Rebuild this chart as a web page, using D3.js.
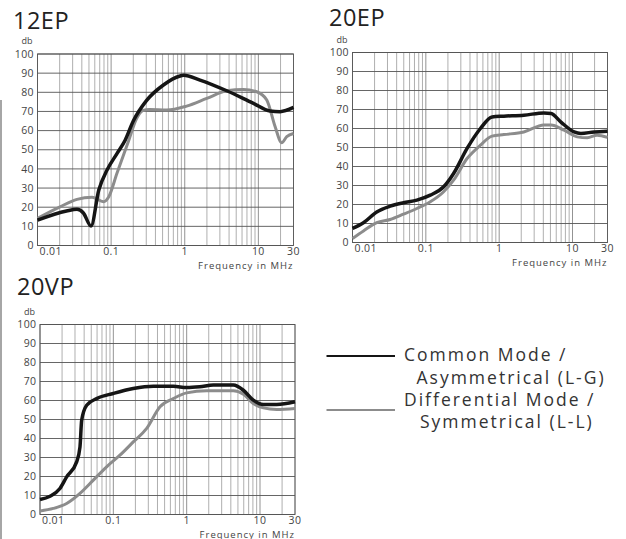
<!DOCTYPE html>
<html>
<head>
<meta charset="utf-8">
<script src="https://cdn.jsdelivr.net/npm/d3@7"></script>
<style>
  body { margin: 0; background: #fff; }
  svg { display: block; font-family: "Open Sans", sans-serif; }
</style>
</head>
<body>
<div id="chart"></div>
<script>
// axis ticks
const xTicks = [0.01, 0.1, 1, 10, 30];
const xTickLabels = ["0.01", "0.1", "1", "10", "30"];
const yTicks = [0, 10, 20, 30, 40, 50, 60, 70, 80, 90, 100];

// [frequency MHz, attenuation dB]
const ep12Common = [[0.01,13.2],[0.0248,18],[0.0344,18.9],[0.042,17],[0.0533,10.2],[0.068,29],[0.088,39.4],
  [0.12,48],[0.155,55],[0.2,65],[0.3,75.5],[0.513,83.8],[0.863,88.5],[0.96,88.9],[1.61,86.4],[3.72,80.8],
  [8.57,74.2],[14.4,70.2],[19.7,69.9],[30,72.1]];
const ep12Diff = [[0.01,14.2],[0.0202,20.2],[0.0344,24.1],[0.055,25.2],[0.079,22.9],[0.093,25.5],
  [0.12,37.7],[0.174,55],[0.22,66],[0.27,70.5],[0.33,71],[0.569,70.7],[1.06,72.8],[1.99,76.8],
  [3.72,80.8],[6.26,81.5],[9.5,80.3],[13,76],[16.9,62],[20.7,53.7],[24.3,56.8],[30,58.5]];

const ep20Common = [[0.01,7.4],[0.0141,10.4],[0.0214,16.1],[0.0326,19.1],[0.0496,20.9],[0.0755,22.3],
  [0.115,24.9],[0.175,29.3],[0.239,36.3],[0.365,49.5],[0.555,60],[0.8,66.1],[1.16,66.5],[2.17,67],
  [4.08,68.2],[5.1,67.9],[6.9,63.5],[10.5,58.2],[13,57.4],[19.7,58.2],[30,58.6]];
const ep20Diff = [[0.01,2.1],[0.0141,6.1],[0.0214,10.4],[0.0326,12.1],[0.0496,14.9],[0.0755,17.9],
  [0.115,21.4],[0.175,26.7],[0.239,32.8],[0.365,44.2],[0.555,51.2],[0.8,56],[1.16,56.8],[2.17,58.2],
  [4.08,61.8],[5.1,61.8],[7.66,59.1],[11.6,55.6],[15.9,55.1],[21.6,56.5],[30,55.3]];

const vp20Common = [[0.01,7.9],[0.0137,9.6],[0.0187,13.7],[0.0231,19.8],[0.0316,27.7],[0.0351,35.6],
  [0.037,49.6],[0.0433,57.5],[0.0593,61],[0.1,63.7],[0.187,66.3],[0.351,67.5],[0.658,67.5],[1.0,66.8],
  [1.51,67.2],[2.31,68.1],[4.33,68.1],[5.93,65.4],[8.1,60.2],[11.1,57.9],[16.9,57.9],[30,59.3]];
const vp20Diff = [[0.01,1.9],[0.0152,3.2],[0.0231,5.8],[0.0351,11.1],[0.0534,18.1],[0.081,25.1],
  [0.123,31.2],[0.187,38.2],[0.285,45.3],[0.433,56.7],[0.658,61],[1.0,64],[1.87,65.1],[4.33,65.1],
  [5.93,63.3],[8.1,58.4],[11.1,56.1],[16.9,55.3],[30,55.8]];

const legendLabels = [["Common Mode /", "Asymmetrical (L-G)"], ["Differential Mode /", "Symmetrical (L-L)"]];

const panels = [
  { title: "12EP", common: ep12Common, diff: ep12Diff, left: 37.5, top: 54, w: 256, h: 191.5, tx: 13, ty: 28.5 },
  { title: "20EP", common: ep20Common, diff: ep20Diff, left: 352.5, top: 52.5, w: 255, h: 190, tx: 329, ty: 25.5 },
  { title: "20VP", common: vp20Common, diff: vp20Diff, left: 40, top: 324.5, w: 255, h: 190, tx: 17, ty: 295 }
];

const W = 626, H = 539;
const svg = d3.select("#chart").append("svg")
  .attr("width", W).attr("height", H);

svg.append("rect").attr("width", W).attr("height", H).attr("fill", "#fff");

// scan edge on the left
svg.append("line")
  .attr("x1", 1).attr("x2", 1).attr("y1", 100).attr("y2", H)
  .attr("stroke", "#888").attr("stroke-width", 1.5);

// vertical grid: 1..9 per decade, up to 30
const gridFreqs = [];
[0.01, 0.1, 1, 10].forEach(d => {
  d3.range(1, 10).forEach(k => { if (k * d <= 30.0001) gridFreqs.push(+(k * d).toPrecision(3)); });
});

function drawPanel(p) {
  const x = d3.scaleLog().domain([0.01, 30]).range([0, p.w]);
  const y = d3.scaleLinear().domain([0, 100]).range([p.h, 0]);

  svg.append("text")
    .attr("x", p.tx).attr("y", p.ty)
    .attr("font-size", 23.5).attr("fill", "#222")
    .attr("letter-spacing", 0.5)
    .text(p.title);

  const g = svg.append("g").attr("transform", `translate(${p.left},${p.top})`);

  g.append("text")
    .attr("x", -16).attr("y", -10)
    .attr("font-size", 9).attr("fill", "#444")
    .text("db");

  g.selectAll(".vgrid").data(gridFreqs).enter().append("line")
    .attr("x1", d => x(d)).attr("x2", d => x(d))
    .attr("y1", 0).attr("y2", p.h)
    .attr("stroke", d => [0.01, 0.1, 1, 10].includes(d) ? "#777" : "#9a9a9a")
    .attr("stroke-width", 0.8);

  g.selectAll(".hgrid").data(yTicks).enter().append("line")
    .attr("x1", 0).attr("x2", p.w)
    .attr("y1", d => y(d)).attr("y2", d => y(d))
    .attr("stroke", "#555").attr("stroke-width", 0.9);

  g.append("rect")
    .attr("width", p.w).attr("height", p.h)
    .attr("fill", "none").attr("stroke", "#555").attr("stroke-width", 0.9);

  g.selectAll(".ylab").data(yTicks).enter().append("text")
    .attr("x", -3.5).attr("y", d => y(d))
    .attr("dy", "0.35em")
    .attr("text-anchor", "end")
    .attr("font-size", 10.5).attr("fill", "#444").attr("letter-spacing", 0.4)
    .text(d => d);

  g.selectAll(".xlab").data(xTicks).enter().append("text")
    .attr("x", (d, i) => i === 0 ? x(d) + 2 : x(d))
    .attr("y", p.h + 9.5)
    .attr("text-anchor", (d, i) => i === 0 ? "start" : "middle")
    .attr("font-size", 10.5).attr("fill", "#444").attr("letter-spacing", 0.4)
    .text((d, i) => xTickLabels[i]);

  g.append("text")
    .attr("x", p.w).attr("y", p.h + 23)
    .attr("text-anchor", "end")
    .attr("font-size", 9.5).attr("fill", "#444")
    .attr("letter-spacing", 1)
    .text("Frequency in MHz");

  const line = d3.line()
    .x(d => x(d[0])).y(d => y(d[1]))
    .curve(d3.curveMonotoneX);

  g.append("path").datum(p.diff)
    .attr("d", line)
    .attr("fill", "none").attr("stroke", "#8c8c8c")
    .attr("stroke-width", 3).attr("stroke-linejoin", "round");

  g.append("path").datum(p.common)
    .attr("d", line)
    .attr("fill", "none").attr("stroke", "#151515")
    .attr("stroke-width", 3.5).attr("stroke-linejoin", "round");
}

panels.forEach(drawPanel);

// legend
const legend = svg.append("g");
const legendRows = [
  { color: "#151515", ly: 356, t1y: 361, t2y: 383.5, t2x: 416.5 },
  { color: "#8c8c8c", ly: 410, t1y: 405.5, t2y: 427.5, t2x: 420 }
];
legendRows.forEach((r, i) => {
  legend.append("line")
    .attr("x1", 326.5).attr("x2", 395).attr("y1", r.ly).attr("y2", r.ly)
    .attr("stroke", r.color).attr("stroke-width", 2.2);
  legend.append("text")
    .attr("x", 404).attr("y", r.t1y)
    .attr("font-size", 17.5).attr("fill", "#333").attr("letter-spacing", 2)
    .text(legendLabels[i][0]);
  legend.append("text")
    .attr("x", r.t2x).attr("y", r.t2y)
    .attr("font-size", 17.5).attr("fill", "#333").attr("letter-spacing", 2)
    .text(legendLabels[i][1]);
});
</script>
</body>
</html>
